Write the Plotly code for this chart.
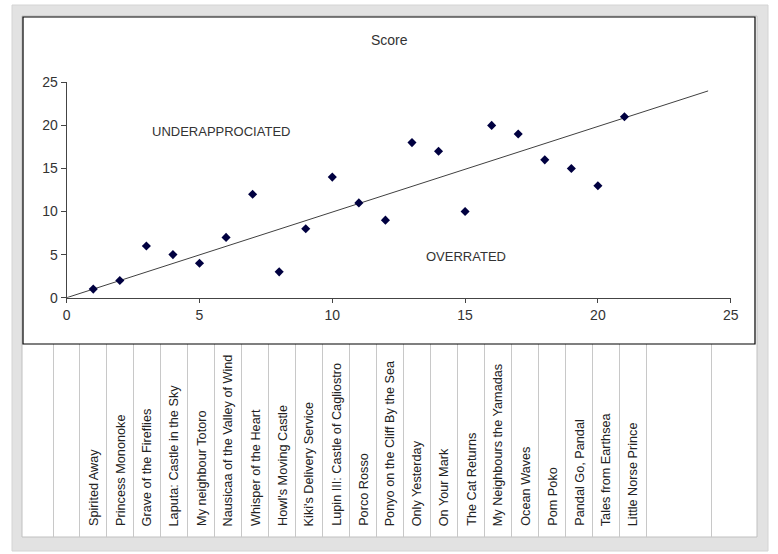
import plotly.graph_objects as go

W, H = 778, 554

films = ['Spirited Away', 'Princess Mononoke', 'Grave of the Fireflies', 'Laputa: Castle in the Sky',
         'My neighbour Totoro', 'Nausicaa of the Valley of Wind', 'Whisper of the Heart',
         "Howl's Moving Castle", "Kiki's Delivery Service", 'Lupin III: Castle of Cagliostro',
         'Porco Rosso', 'Ponyo on the Cliff By the Sea', 'Only Yesterday', 'On Your Mark',
         'The Cat Returns', 'My Neighbours the Yamadas', 'Ocean Waves', 'Pom Poko',
         'Pandal Go, Pandal', 'Tales from Earthsea', 'Little Norse Prince']
rank = list(range(1, 22))
score = [1, 2, 6, 5, 4, 7, 12, 3, 8, 14, 11, 9, 18, 17, 10, 20, 19, 16, 15, 13, 21]
trend_x = [0, 24.15]
trend_y = [0, 24.0]
col_edges = [-0.5, 0.5, 1.5, 2.5, 3.5, 4.5, 5.5, 6.5, 7.5, 8.5, 9.5, 10.5, 11.5, 12.5,
             13.5, 14.5, 15.5, 16.5, 17.5, 18.5, 19.5, 20.5, 21.5, 23.9]


def px(x):
    return x / W


def py(y):
    return 1 - y / H


font = 'Liberation Sans, Arial, sans-serif'

fig = go.Figure()
fig.add_trace(go.Scatter(x=trend_x, y=trend_y, mode='lines',
                         line=dict(color='#404040', width=1), hoverinfo='skip'))
fig.add_trace(go.Scatter(x=rank, y=score, mode='markers', cliponaxis=False,
                         marker=dict(symbol='diamond', size=7, color='#000040')))

shapes = [
    # outer frame
    dict(type='rect', xref='paper', yref='paper', x0=px(12), x1=px(768), y0=py(551), y1=py(5),
         fillcolor='#e2e2e2', line=dict(color='#d4d4d4', width=1), layer='below'),
    dict(type='rect', xref='paper', yref='paper', x0=px(22), x1=px(757), y0=py(537), y1=py(16),
         fillcolor='white', line=dict(color='#c0c0c0', width=1), layer='below'),
    # chart box
    dict(type='rect', xref='paper', yref='paper', x0=px(23), x1=px(755), y0=py(344), y1=py(17),
         line=dict(color='black', width=1.2), layer='above'),
]

annotations = [
    dict(text='Score', x=px(390), y=py(40), xref='paper', yref='paper', showarrow=False,
         xanchor='center', yanchor='middle', font=dict(size=14, color='#333')),
    dict(text='UNDERAPPROCIATED', x=px(221), y=py(131), xref='paper', yref='paper', showarrow=False,
         xanchor='center', yanchor='middle', font=dict(size=13, color='#333')),
    dict(text='OVERRATED', x=px(466), y=py(257), xref='paper', yref='paper', showarrow=False,
         xanchor='center', yanchor='middle', font=dict(size=13, color='#333')),
]
for r, name in zip(rank, films):
    annotations.append(dict(text=name, x=r, xref='x2', y=py(528), yref='paper', textangle=-90,
                            xanchor='center', yanchor='bottom', showarrow=False,
                            font=dict(size=12.7, color='#222')))

axis_font = dict(family=font, size=14, color='#333')
fig.update_layout(
    template='none',
    width=W, height=H, margin=dict(l=0, r=0, t=0, b=0, pad=0),
    paper_bgcolor='white', plot_bgcolor='rgba(0,0,0,0)',
    showlegend=False, font=dict(family=font),
    xaxis=dict(domain=[px(66.7), px(730.7)], range=[0, 25], tickvals=[0, 5, 10, 15, 20, 25],
               ticks='outside', ticklen=4, tickcolor='#444', showline=True, linecolor='#444',
               showgrid=False, zeroline=False, tickfont=axis_font, anchor='y', automargin=False),
    yaxis=dict(domain=[py(297.7), py(82.3)], range=[0, 25], tickvals=[0, 5, 10, 15, 20, 25],
               ticks='outside', ticklen=5, tickcolor='#444', showline=True, linecolor='#444',
               showgrid=False, zeroline=False, tickfont=axis_font, anchor='x', automargin=False),
    xaxis2=dict(domain=[px(23), px(756)], range=[-1.612, 25.55], tickvals=col_edges,
                showticklabels=False, ticks='', showgrid=True, gridcolor='#c8c8c8', gridwidth=1,
                zeroline=False, showline=False, anchor='y2', automargin=False),
    yaxis2=dict(domain=[py(537), py(344)], range=[0, 1], visible=False, anchor='x2'),
    shapes=shapes, annotations=annotations,
)

fig.write_html('out.html', config={'displayModeBar': False},
               post_script="document.body.style.margin='0';")
